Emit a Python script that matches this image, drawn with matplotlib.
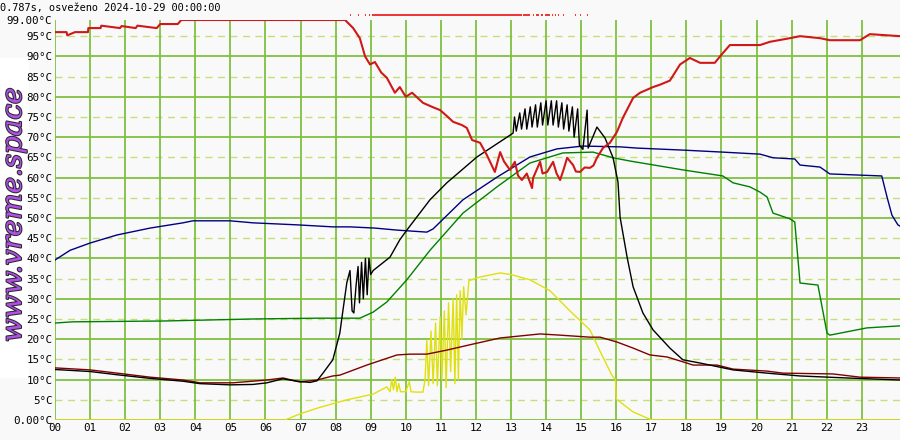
import matplotlib
matplotlib.use("Agg")
import matplotlib.pyplot as plt
import matplotlib.patheffects as pe
from matplotlib.patches import Rectangle

# ---------------- data (hours, °C / %) ----------------
red_h = [0, 0.33, 0.35, 0.57, 0.94, 0.95, 1.3, 1.32, 1.85, 1.9, 2.3, 2.35, 2.9, 3.0, 3.5, 3.6, 8.27,
         8.5, 8.69, 8.84, 8.98, 9.12, 9.3, 9.46, 9.69, 9.83, 10.0, 10.18, 10.49, 10.75, 10.98, 11.2, 11.35,
         11.6, 11.74, 11.89, 12.12, 12.31, 12.54, 12.69, 12.8, 12.97, 13.11, 13.2, 13.31, 13.45, 13.60,
         13.63, 13.83, 13.9, 14.03, 14.20, 14.3, 14.40, 14.5, 14.60, 14.77, 14.85, 14.97, 15.1, 15.25,
         15.35, 15.45, 15.62, 15.82, 16.02, 16.19, 16.48, 16.68, 17.05, 17.25, 17.53, 17.82, 18.10,
         18.39, 18.81, 18.96, 19.24, 20.10, 20.38, 20.95, 21.24, 21.81, 22.09, 22.95, 23.23, 24.09]
red_v = [96, 96, 95.2, 96, 96, 97, 97, 97.6, 97, 97.5, 97, 97.6, 97, 98, 98, 99, 99,
         97, 94.5, 90, 88, 88.6, 86, 84.7, 81, 82.4, 80, 81, 78.5, 77.5, 76.7, 75, 73.8,
         73, 72.3, 69.3, 68.6, 65.6, 61.4, 66.3, 64, 61.9, 63.9, 60.5, 59.4, 61, 57.4,
         59.9, 63.9, 61, 61.4, 63.9, 61, 59.4, 62, 64.9, 63.1, 61.5, 61.4, 62.5, 62.4,
         63, 64.9, 67.3, 68.6, 71.3, 74.8, 79.7, 81, 82.4, 83, 84, 88, 89.6,
         88.4, 88.4, 90, 92.8, 92.8, 93.6, 94.5, 95, 94.5, 94, 94, 95.5, 95]

black_h = [0, 1.0, 1.77, 2.71, 3.65, 4.13, 4.99, 5.64, 6.04, 6.5, 6.9, 7.27, 7.47, 7.64, 7.92, 8.12, 8.21,
           8.32, 8.41, 8.47, 8.52, 8.58, 8.64, 8.68, 8.74, 8.79, 8.85, 8.9, 8.95, 9.0, 9.07, 9.55, 9.83,
           10.03, 10.69, 11.17, 12.03, 13.06, 13.1, 13.15, 13.25, 13.3, 13.4, 13.45, 13.55, 13.6, 13.7,
           13.75, 13.85, 13.9, 14.0, 14.05, 14.15, 14.2, 14.3, 14.35, 14.45, 14.5, 14.6, 14.65, 14.75,
           14.8, 14.9, 14.95, 15.05, 15.17, 15.2, 15.45, 15.68, 15.91, 16.05, 16.11, 16.31, 16.48,
           16.76, 17.05, 17.53, 17.90, 18.39, 19.33, 20.30, 21.24, 22.58, 24.09]
black_v = [12.5, 12.0, 11.2, 10.3, 9.6, 9.0, 8.7, 8.8, 9.2, 10.2, 9.6, 9.3, 9.7, 11.6, 14.9, 21.5, 27.2,
           34, 37, 27, 26.5, 33, 38, 29, 39, 30, 40, 31, 40, 36, 37, 40.3, 44.6,
           47, 54.5, 58.7, 65.1, 71, 75, 71.5, 76, 72, 77, 72, 77.5, 72.5, 78,
           72.5, 78.5, 73, 79, 73, 79, 73, 79, 72.5, 78.5, 72, 78, 71.5, 77.5,
           70, 77, 68, 67, 76.7, 67.3, 72.5, 69.8, 64.9, 58.9, 50.2, 40.3, 33,
           26.5, 22.3, 17.8, 14.9, 14.1, 12.4, 11.6, 10.9, 10.4, 9.9]

dred_h = [0, 1.0, 1.77, 2.71, 3.65, 4.13, 5.07, 6.04, 6.5, 6.98, 7.47, 7.92, 8.12, 8.89, 9.75, 10.12,
          10.6, 11.17, 11.92, 12.69, 13.83, 14.40, 15.25, 15.54, 16.02, 16.48, 16.96, 17.45, 17.90,
          18.19, 18.87, 19.33, 20.30, 20.75, 22.18, 22.95, 24.09]
dred_v = [12.9, 12.4, 11.6, 10.6, 9.9, 9.2, 9.2, 9.9, 10.4, 9.4, 9.9, 10.9, 11.1, 13.6, 16.1, 16.3,
          16.3, 17.3, 18.8, 20.3, 21.3, 21, 20.5, 20.5, 19.3, 17.8, 16.1, 15.6, 14.4,
          13.6, 13.6, 12.6, 12.1, 11.6, 11.4, 10.6, 10.4]

blue_h = [0, 0.43, 1.0, 1.77, 2.71, 3.65, 3.93, 4.99, 5.64, 6.90, 7.92, 8.41, 9.12, 9.75, 10.6, 10.78,
          11.63, 12.60, 13.54, 14.31, 15.05, 16.11, 16.59, 17.90, 19.04, 20.10, 20.47, 21.09, 21.24,
          21.81, 22.09, 23.57, 23.72, 23.86, 24.03, 24.09]
blue_v = [39.6, 42, 43.8, 45.8, 47.5, 48.8, 49.3, 49.3, 48.8, 48.3, 47.8, 47.8, 47.5, 47, 46.5, 47.3,
          54.5, 60.1, 65.1, 67.1, 67.8, 67.6, 67.3, 66.8, 66.3, 65.8, 64.9, 64.6, 63.1,
          62.6, 60.9, 60.4, 55.2, 50.7, 48.3, 48.0]

green_h = [0, 0.51, 3.08, 5.64, 7.47, 8.69, 9.07, 9.46, 10.03, 10.69, 11.63, 12.60, 13.54, 14.48,
           15.34, 15.91, 16.39, 17.90, 19.04, 19.33, 19.81, 20.10, 20.30, 20.47, 20.95, 21.09, 21.24,
           21.75, 22.01, 22.09, 23.15, 24.09]
green_v = [24, 24.3, 24.5, 25, 25.2, 25.2, 26.7, 29.2, 34.7, 42, 51.2, 57.7, 63.6, 66.1,
           66.3, 64.9, 64.1, 61.9, 60.4, 58.7, 57.7, 56.4, 55.2, 51.2, 49.8, 49, 33.9,
           33.4, 21.5, 21, 22.8, 23.3]

yellow_h = [0, 6.56, 6.98, 7.5, 8.32, 9.07, 9.46, 9.55, 9.6, 9.65, 9.7, 9.75, 9.8, 9.85, 10.0, 10.1,
            10.15, 10.3, 10.49, 10.55, 10.6, 10.65, 10.72, 10.78, 10.85, 10.9, 10.98, 11.03, 11.1,
            11.15, 11.22, 11.28, 11.35, 11.4, 11.45, 11.5, 11.55, 11.6, 11.65, 11.72, 11.8, 12.12,
            12.69, 13.0, 13.54, 14.11, 14.68, 15.25, 15.54, 15.88, 15.98, 16.0, 16.48, 16.96, 17.05, 24.09]
yellow_v = [0, 0, 1.5, 3, 5, 6.4, 8.2, 7, 10, 7.5, 10.6, 7, 9, 7, 7, 9.5,
            7, 6.9, 6.9, 10, 19.8, 8.5, 22, 9, 24, 8.5, 25.5, 10, 27,
            8, 29, 12, 30, 9, 31, 10, 32, 20, 33, 26, 34.5, 35.4,
            36.4, 36, 34.7, 32, 27, 22.3, 17, 11, 10, 5.2, 2, 0.2, 0, 0]

sun_segments = [(8.40, 8.43), (8.63, 8.66), (8.83, 8.86), (8.94, 8.97), (9.04, 13.31), (13.34, 13.54),
                (13.62, 13.65), (13.72, 13.80), (13.86, 13.92), (13.98, 14.12), (14.16, 14.20),
                (14.25, 14.28), (14.34, 14.37), (14.48, 14.51), (14.82, 14.85), (14.97, 15.00),
                (15.16, 15.19)]

hour_labels = ["%02d" % h for h in range(24)]
ytick_vals = list(range(0, 100, 5)) + [99]
ytick_labels = ["0.00°C"] + ["%d°C" % v for v in range(5, 100, 5)] + ["99.00°C"]
title_text = "0.787s, osveženo 2024-10-29 00:00:00"
watermark = "www.vreme.space"

# ---------------- figure ----------------
W, H = 900, 440
fig = plt.figure(figsize=(W / 100, H / 100), dpi=100)
fig.patch.set_facecolor("#f9f9f9")
ax = fig.add_axes([55 / W, 20 / H, 845 / W, 400 / H])
ax.set_facecolor("#f9f9f9")
ax.set_xlim(0, 24.09)
ax.set_ylim(0, 99)
for s in ax.spines.values():
    s.set_visible(False)

solid_c = "#80c040"
dash_c = "#c4e07a"
for v in range(0, 100, 5):
    if v % 10 == 0:
        ax.axhline(v, color=solid_c, lw=1.3, zorder=1)
    else:
        ax.axhline(v, color=dash_c, lw=1.0, ls=(0, (5, 4)), zorder=1)
for h in range(24):
    ax.axvline(h, color=solid_c, lw=1.3, zorder=1)

lw = 1.0
ax.plot(yellow_h, yellow_v, color="#e0e010", lw=lw, zorder=3)
ax.plot(green_h, green_v, color="#008000", lw=lw, zorder=4)
ax.plot(blue_h, blue_v, color="#000080", lw=lw, zorder=4)
ax.plot(dred_h, dred_v, color="#800000", lw=lw, zorder=5)
ax.plot(black_h, black_v, color="#000000", lw=lw, zorder=6)
ax.plot(red_h, red_v, color="#d01818", lw=1.5, zorder=7)
for a, b in sun_segments:
    ax.plot([a, b], [100.2, 100.2], color="#ee1111", lw=1.2, clip_on=False, solid_capstyle="butt")

mono = "DejaVu Sans Mono"
ax.set_xticks(range(24))
ax.set_xticklabels(hour_labels, fontsize=7.8, family=mono)
ax.set_yticks(ytick_vals)
ax.set_yticklabels(ytick_labels, fontsize=7.8, family=mono)
ax.tick_params(length=0, pad=2, colors="black")

fig.text(0.5 / W, 1 - 8 / H, title_text, fontsize=7.4, family=mono, va="center", ha="left")

fig.patches.append(Rectangle((0, 1 - 378 / H), 29 / W, 320 / H, transform=fig.transFigure,
                             facecolor="white", edgecolor="none", zorder=-2))
fig.text(13.5 / W, 1 - 215 / H, watermark, rotation=90, fontsize=20, family="DejaVu Serif",
         style="italic", color="#b050e8", ha="center", va="center", zorder=-1,
         path_effects=[pe.withStroke(linewidth=1.5, foreground="#2a2a2a")])

fig.savefig("out.png", dpi=100, facecolor=fig.get_facecolor())
